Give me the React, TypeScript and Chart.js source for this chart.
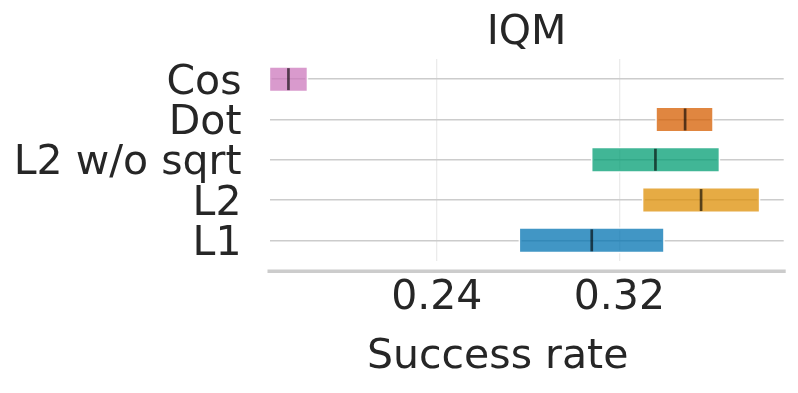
import React, { useEffect, useRef } from "react";
import { Chart, registerables } from "chart.js";

Chart.register(...registerables);

const methods = ["Cos", "Dot", "L2 w/o sqrt", "L2", "L1"];
const lowerCI = [0.167, 0.3364, 0.3082, 0.3305, 0.2765];
const upperCI = [0.183, 0.3607, 0.3635, 0.3811, 0.3392];
const iqmValues = [0.175, 0.3488, 0.3358, 0.3558, 0.3079];
const xTicks = [0.24, 0.32];
const xMin = 0.1667;
const xMax = 0.392;
const xLabel = "Success rate";
const colors = [
  "rgba(204,120,188,0.75)",
  "rgba(213,94,0,0.75)",
  "rgba(2,158,115,0.75)",
  "rgba(222,143,5,0.75)",
  "rgba(1,115,178,0.75)",
];

const FONT = "'DejaVu Sans', sans-serif";
const TEXT = "#262626";
const FONT_SIZE = 41;

const decorPlugin = {
  id: "decor",
  beforeDatasetsDraw(chart: any) {
    const ctx = chart.ctx;
    const meta = chart.getDatasetMeta(0);
    ctx.save();
    ctx.strokeStyle = "rgba(255,255,255,0.9)";
    ctx.lineWidth = 3;
    meta.data.forEach((el: any) => {
      const left = Math.min(el.x, el.base);
      const right = Math.max(el.x, el.base);
      const top = el.y - el.height / 2;
      ctx.strokeRect(left, top, right - left, el.height);
    });
    ctx.restore();
  },
  afterDatasetsDraw(chart: any) {
    const ctx = chart.ctx;
    const meta = chart.getDatasetMeta(0);
    const xs = chart.scales.x;
    ctx.save();
    ctx.strokeStyle = "rgba(0,0,0,0.62)";
    ctx.lineWidth = 2.7;
    meta.data.forEach((el: any, i: number) => {
      const x = xs.getPixelForValue(iqmValues[i]);
      ctx.beginPath();
      ctx.moveTo(x, el.y - el.height / 2 + 0.5);
      ctx.lineTo(x, el.y + el.height / 2 - 0.5);
      ctx.stroke();
    });
    const area = chart.chartArea;
    ctx.strokeStyle = "#cccccc";
    ctx.lineWidth = 3.5;
    ctx.beginPath();
    ctx.moveTo(area.left - 2, area.bottom + 10.8);
    ctx.lineTo(area.right + 2, area.bottom + 10.8);
    ctx.stroke();
    // x axis label
    ctx.fillStyle = TEXT;
    ctx.font = `${FONT_SIZE}px ${FONT}`;
    ctx.textAlign = "center";
    ctx.textBaseline = "middle";
    ctx.fillText(xLabel, 497.7, xs.bottom - (FONT_SIZE * 1.2) / 2);
    ctx.restore();
  },
};

export default function App() {
  const ref = useRef<HTMLCanvasElement>(null);
  useEffect(() => {
    if (!ref.current) return;
    const chart = new Chart(ref.current, {
      type: "bar",
      data: {
        labels: methods,
        datasets: [
          {
            data: methods.map((_, i) => [lowerCI[i], upperCI[i]]) as any,
            backgroundColor: colors,
            borderWidth: 0,
            categoryPercentage: 1,
            barPercentage: 0.57,
          },
        ],
      },
      options: {
        indexAxis: "y",
        responsive: false,
        animation: false,
        layout: { padding: { left: 0, right: 14.3, top: 0, bottom: 10.7 } },
        plugins: {
          legend: { display: false },
          tooltip: { enabled: false },
          title: {
            display: true,
            text: "IQM",
            fullSize: false,
            color: TEXT,
            font: { family: FONT, size: FONT_SIZE, weight: "normal" },
            padding: { top: 9, bottom: 0.8 },
          },
        },
        scales: {
          x: {
            type: "linear",
            min: xMin,
            max: xMax,
            afterBuildTicks: (scale: any) => {
              scale.ticks = xTicks.map((v) => ({ value: v }));
            },
            afterFit: (scale: any) => {
              scale.height = 121.8;
            },
            ticks: {
              color: TEXT,
              font: { family: FONT, size: FONT_SIZE },
              padding: 13,
              callback: (v: any) => Number(v).toFixed(2),
            },
            grid: { color: "#ebebeb", lineWidth: 1.3, drawTicks: false },
            border: { display: false },
            title: { display: false },
          },
          y: {
            type: "category",
            afterFit: (scale: any) => {
              scale.width = 269.5;
            },
            ticks: {
              color: TEXT,
              font: { family: FONT, size: FONT_SIZE },
              padding: 28,
              autoSkip: false,
              labelOffset: 4,
            },
            grid: { color: "#cccccc", lineWidth: 1.6, offset: false, drawTicks: false },
            border: { display: false },
          },
        },
      },
      plugins: [decorPlugin],
    });
    return () => chart.destroy();
  }, []);
  return (
    <div style={{ position: "fixed", left: 0, top: 0, width: 798, height: 393, background: "#fff" }}>
      <canvas ref={ref} width={798} height={393} style={{ display: "block" }} />
    </div>
  );
}
